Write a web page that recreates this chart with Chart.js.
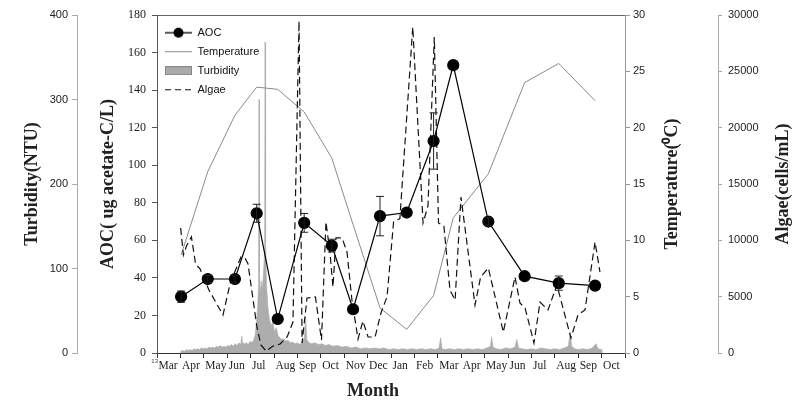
<!DOCTYPE html>
<html><head><meta charset="utf-8">
<script src="https://cdn.jsdelivr.net/npm/chart.js@4.4.1/dist/chart.umd.min.js"></script>
<style>html,body{margin:0;padding:0;background:#fff;}canvas{display:block;}</style>
</head><body>
<canvas id="c" width="811" height="400"></canvas>
<script>
// ---- data (x = months since start of Mar 2013) ----
const YEAR_MARK = '13';
const MONTHS = ['Mar','Apr','May','Jun','Jul','Aug','Sep','Oct','Nov','Dec','Jan','Feb','Mar','Apr','May','Jun','Jul','Aug','Sep','Oct'];
const X_TICKS = [0,1,2,3,4,5,6,7,8,9,10,11,12,13,14,15,16,17,18,19,20];

const SAMPLE_X = [1.03,2.17,3.33,4.26,5.16,6.29,7.47,8.38,9.53,10.67,11.82,12.66,14.16,15.71,17.17,18.72];
const AOC      = [30,39.4,39.4,74.4,18.1,69.3,57.2,23.3,72.9,74.8,112.9,153.3,70,40.9,37.2,35.9];
const AOC_ERR  = [3,2,2,4.8,0,5,3.4,0,10.5,0,15,0,2,0,3.8,0];
const TEMP     = [8.7,16.1,21.1,23.6,23.4,21.4,17.3,11.4,4.0,2.1,5.1,12.0,15.9,24.0,25.7,22.4];

const ALGAE_X = [1.01,1.13,1.26,1.47,1.65,1.84,2.22,2.82,3.14,3.59,3.76,3.89,4.27,4.44,4.66,4.96,5.26,5.56,5.81,6.07,6.20,6.41,6.77,7.03,7.22,7.39,7.52,7.65,7.91,8.12,8.33,8.59,8.80,9.02,9.32,9.57,9.83,10.11,10.38,10.93,11.37,11.58,11.85,12.03,12.26,12.52,12.74,12.99,13.59,13.83,14.16,14.80,15.30,15.51,15.73,16.11,16.37,16.71,17.09,17.69,17.99,18.29,18.72,18.93];
const ALGAE   = [11100,8700,9500,10300,7900,7460,5590,3370,6300,8520,8430,7900,2310,710,180,620,800,1420,2750,29470,890,4880,4970,1150,11630,8960,5860,10210,10210,8960,4700,1240,2840,1420,1420,3550,4970,11630,11930,28940,11540,13050,28050,11540,11270,5590,4700,13850,4260,6750,7540,1860,6750,4440,3990,890,4530,3820,6040,1330,3370,3820,9850,7190];

const TURB_X = [1.00,1.02,1.10,1.18,1.26,1.34,1.42,1.50,1.58,1.66,1.74,1.82,1.90,1.98,2.06,2.14,2.22,2.30,2.38,2.46,2.54,2.62,2.70,2.78,2.86,2.94,3.02,3.10,3.18,3.26,3.34,3.42,3.50,3.58,3.62,3.66,3.74,3.82,3.90,3.98,4.06,4.14,4.20,4.26,4.30,4.34,4.36,4.38,4.42,4.46,4.50,4.55,4.60,4.62,4.64,4.68,4.74,4.80,4.88,4.95,5.02,5.10,5.18,5.26,5.34,5.42,5.50,5.60,5.70,5.80,5.90,6.00,6.10,6.20,6.30,6.35,6.40,6.50,6.60,6.75,6.90,7.05,7.20,7.35,7.50,7.70,7.90,8.10,8.30,8.50,8.70,8.90,9.10,9.30,9.50,9.70,9.90,10.10,10.30,10.50,10.70,10.90,11.10,11.30,11.50,11.70,11.90,12.05,12.12,12.18,12.30,12.50,12.70,12.90,13.10,13.30,13.50,13.70,13.90,14.10,14.25,14.30,14.36,14.50,14.70,14.90,15.10,15.30,15.38,15.45,15.60,15.80,16.00,16.20,16.40,16.60,16.80,17.00,17.20,17.40,17.58,17.66,17.72,17.85,18.00,18.20,18.40,18.60,18.76,18.85,19.00,19.01];
const TURB   = [0,2,3,2,4,3,4,3,5,4,5,4,6,5,6,5,7,6,7,6,8,7,9,7,8,7,9,8,10,8,11,9,12,10,20,12,11,12,10,14,12,16,22,40,55,80,300,95,70,85,75,95,120,368,130,80,55,40,32,38,25,30,20,18,16,17,14,15,12,13,11,12,10,13,18,43,16,12,11,12,10,11,9,10,8,9,7,8,6,7,5,6,5,6,5,6,4,5,4,5,4,5,4,5,4,5,4,6,18,5,4,5,4,5,4,5,4,5,4,6,8,19,7,5,4,6,5,7,16,6,5,4,5,4,6,5,4,5,4,6,8,25,8,5,4,5,4,6,11,5,4,0];

const pts = (xs, ys) => xs.map((x, i) => ({x: x, y: ys[i]}));

// ---- legend symbols ----
function sym(draw, w, h) { const c = document.createElement('canvas'); c.width = w; c.height = h; draw(c.getContext('2d')); return c; }
const symAOC = sym(g => { g.strokeStyle = '#000'; g.lineWidth = 1.3; g.beginPath(); g.moveTo(0, 6); g.lineTo(27, 6); g.stroke(); g.fillStyle = '#000'; g.beginPath(); g.arc(13.5, 6, 5, 0, Math.PI * 2); g.fill(); }, 27, 12);
const symTemp = sym(g => { g.strokeStyle = '#888'; g.lineWidth = 1; g.beginPath(); g.moveTo(0, 1.5); g.lineTo(27, 1.5); g.stroke(); }, 27, 3);
const symTurb = sym(g => { g.fillStyle = '#aaa'; g.fillRect(0, 0, 27, 9); g.strokeStyle = '#888'; g.lineWidth = 1; g.strokeRect(0.5, 0.5, 26, 8); }, 27, 9);
const symAlgae = sym(g => { g.strokeStyle = '#111'; g.lineWidth = 1.2; g.setLineDash([6, 4]); g.beginPath(); g.moveTo(0, 1.5); g.lineTo(27, 1.5); g.stroke(); }, 27, 3);

const errorBars = {
  id: 'errorBars',
  afterDatasetDraw(chart, args) {
    if (chart.data.datasets[args.index].label !== 'AOC') return;
    const ctx = chart.ctx, xs = chart.scales.x, ys = chart.scales.yAOC;
    ctx.save(); ctx.strokeStyle = '#222'; ctx.lineWidth = 1;
    SAMPLE_X.forEach((mx, i) => {
      const e = AOC_ERR[i]; if (!e) return;
      const px = xs.getPixelForValue(mx), y1 = ys.getPixelForValue(AOC[i] + e), y2 = ys.getPixelForValue(AOC[i] - e);
      ctx.beginPath(); ctx.moveTo(px, y1); ctx.lineTo(px, y2);
      ctx.moveTo(px - 4, y1); ctx.lineTo(px + 4, y1);
      ctx.moveTo(px - 4, y2); ctx.lineTo(px + 4, y2); ctx.stroke();
    });
    ctx.restore();
  }
};

const extraText = {
  id: 'extraText',
  afterDraw(chart) {
    const ctx = chart.ctx;
    [[chart.scales.yTemp, 'Temperature(\u2070C)', 47], [chart.scales.yAlgae, 'Algae(cells/mL)', 65]].forEach(([s, t, off]) => {
      ctx.save();
      ctx.translate(s.left + off, (s.top + s.bottom) / 2);
      ctx.rotate(-Math.PI / 2);
      ctx.font = 'bold 18px "Liberation Serif"';
      ctx.fillStyle = '#222'; ctx.textAlign = 'center'; ctx.textBaseline = 'middle';
      ctx.fillText(t, 0, 0);
      ctx.restore();
    });
    // small year mark before the first month label
    const xs = chart.scales.x;
    ctx.save();
    ctx.font = '6px "Liberation Sans"'; ctx.fillStyle = '#444'; ctx.textAlign = 'right'; ctx.textBaseline = 'top';
    ctx.fillText(YEAR_MARK, xs.getPixelForValue(0) + 1, xs.top + 5);
    ctx.restore();
  }
};

const serifTitle = {family: 'Liberation Serif', size: 18, weight: 'bold'};

new Chart(document.getElementById('c'), {
  type: 'line',
  data: {
    datasets: [
      {label: 'AOC', data: pts(SAMPLE_X, AOC), yAxisID: 'yAOC', order: 0, borderColor: '#000', borderWidth: 1.2, pointRadius: 5.5, pointBackgroundColor: '#000', pointBorderColor: '#000', tension: 0},
      {label: 'Algae', data: pts(ALGAE_X, ALGAE), yAxisID: 'yAlgae', order: 1, borderColor: '#111', borderWidth: 1.2, borderDash: [7, 4], pointRadius: 0, tension: 0},
      {label: 'Temperature', data: pts(SAMPLE_X, TEMP), yAxisID: 'yTemp', order: 2, borderColor: '#8a8a8a', borderWidth: 1, pointRadius: 0, tension: 0},
      {label: 'Turbidity', data: pts(TURB_X, TURB), yAxisID: 'yTurb', order: 3, borderColor: '#adadad', backgroundColor: '#adadad', borderWidth: 0.6, fill: 'origin', pointRadius: 0, tension: 0}
    ]
  },
  options: {
    responsive: false, animation: false, events: [],
    layout: {padding: 0},
    plugins: {
      tooltip: {enabled: false},
      legend: {
        position: 'chartArea', align: 'start',
        title: {display: true, text: '', font: {size: 3.5}, padding: {top: 15, bottom: 0}},
        labels: {
          usePointStyle: true, pointStyleWidth: 27, boxHeight: 11, padding: 8,
          font: {family: 'Liberation Sans', size: 11}, color: '#111',
          generateLabels: () => [
            {text: 'AOC', pointStyle: symAOC, fillStyle: '#000', strokeStyle: '#000', lineWidth: 1, hidden: false, datasetIndex: 0, fontColor: '#111'},
            {text: 'Temperature', pointStyle: symTemp, fillStyle: '#888', strokeStyle: '#888', lineWidth: 1, hidden: false, datasetIndex: 2, fontColor: '#111'},
            {text: 'Turbidity', pointStyle: symTurb, fillStyle: '#aaa', strokeStyle: '#888', lineWidth: 1, hidden: false, datasetIndex: 3, fontColor: '#111'},
            {text: 'Algae', pointStyle: symAlgae, fillStyle: '#111', strokeStyle: '#111', lineWidth: 1, hidden: false, datasetIndex: 1, fontColor: '#111'}
          ]
        }
      }
    },
    scales: {
      x: {
        type: 'linear', position: 'bottom', min: 0, max: 20,
        afterBuildTicks: s => { s.ticks = X_TICKS.map(v => ({value: v})); },
        afterFit: s => { s.height = 47; },
        ticks: {autoSkip: false, maxRotation: 0, align: 'start', labelOffset: 1.5, padding: 1, font: {family: 'Liberation Serif', size: 11.5}, color: '#222', callback: (v, i) => MONTHS[i] ?? ''},
        grid: {drawOnChartArea: false, drawTicks: true, tickLength: 5, color: '#333'},
        border: {color: '#333'},
        title: {display: true, text: 'Month        ', font: {family: 'Liberation Serif', size: 18, weight: 'bold', lineHeight: 1}, color: '#222', padding: {top: 0, bottom: 0}}
      },
      x2: {
        type: 'linear', position: 'top', min: 0, max: 20,
        ticks: {display: false}, grid: {display: false}, border: {display: true, color: '#666'},
        afterFit: s => { s.height = 15; }
      },
      yAOC: {
        type: 'linear', position: 'left', weight: 1, min: 0, max: 180,
        afterFit: s => { s.width = 80; },
        ticks: {stepSize: 20, font: {family: 'Liberation Serif', size: 12}, color: '#222', padding: 6},
        grid: {drawOnChartArea: false, tickLength: 5, color: '#555'},
        border: {color: '#555'},
        title: {display: true, text: 'AOC( ug acetate-C/L)', font: serifTitle, color: '#222', padding: {top: 21, bottom: 0}}
      },
      yTurb: {
        type: 'linear', position: 'left', weight: 2, min: 0, max: 400,
        afterFit: s => { s.width = 77; },
        ticks: {stepSize: 100, font: {family: 'Liberation Sans', size: 11}, color: '#222', padding: 4},
        grid: {drawOnChartArea: false, tickLength: 5, color: '#aaa'},
        border: {color: '#aaa'},
        title: {display: true, text: 'Turbidity(NTU)', font: serifTitle, color: '#222', padding: {top: 22, bottom: 0}}
      },
      yTemp: {
        type: 'linear', position: 'right', weight: 1, min: 0, max: 30,
        afterFit: s => { s.width = 93; },
        ticks: {stepSize: 5, font: {family: 'Liberation Sans', size: 11}, color: '#222', padding: 3},
        grid: {drawOnChartArea: false, tickLength: 5, color: '#999'},
        border: {color: '#999'}
      },
      yAlgae: {
        type: 'linear', position: 'right', weight: 2, min: 0, max: 30000,
        afterFit: s => { s.width = 93; },
        ticks: {stepSize: 5000, font: {family: 'Liberation Sans', size: 11}, color: '#222', padding: 6, callback: v => String(v)},
        grid: {drawOnChartArea: false, tickLength: 4, color: '#aaa'},
        border: {color: '#aaa'}
      }
    }
  },
  plugins: [errorBars, extraText]
});
</script>
</body></html>
